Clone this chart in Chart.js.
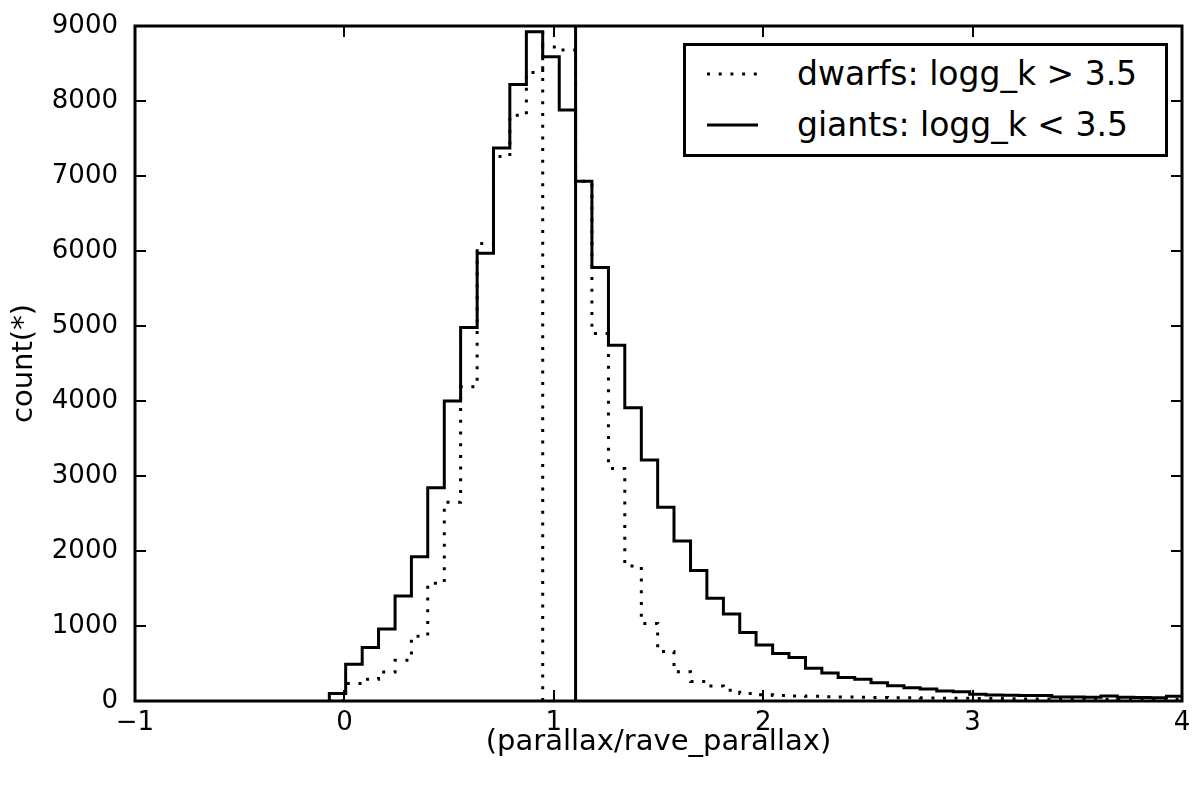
<!DOCTYPE html>
<html>
<head>
<meta charset="utf-8">
<script src="https://cdn.jsdelivr.net/npm/chart.js@4.4.1/dist/chart.umd.min.js"></script>
<style>
    html, body { margin: 0; padding: 0; background: #fff; }
    #wrap { position: relative; width: 1200px; height: 797px; background: #fff; }
    #legend {
        position: absolute; left: 683px; top: 43px; width: 485px; height: 114px;
        box-sizing: border-box; border: 3px solid #000; background: #fff;
        font-family: "DejaVu Sans", sans-serif; font-size: 33px; color: #000;
    }
    .row { position: absolute; left: 0; height: 50px; display: flex; align-items: center; }
    .row svg { margin-left: 21px; width: 51px; height: 6px; }
    .row span { margin-left: 39px; line-height: 40px; white-space: nowrap; }
</style>
</head>
<body>
<div id="wrap">
    <canvas id="chart" width="1200" height="797"></canvas>
    <div id="legend">
        <div class="row" style="top:3px">
            <svg viewBox="0 0 51 6"><line x1="0" y1="3" x2="51" y2="3" stroke="#000" stroke-width="3" stroke-dasharray="3 8.7"/></svg>
            <span>dwarfs: logg_k &gt; 3.5</span>
        </div>
        <div class="row" style="top:54px">
            <svg viewBox="0 0 51 6"><line x1="0" y1="3" x2="51" y2="3" stroke="#000" stroke-width="3"/></svg>
            <span>giants: logg_k &lt; 3.5</span>
        </div>
    </div>
</div>
<script>
// bin edges of both histograms (53 edges -> 52 bins)
const binEdges = [
    -0.072, 0.006, 0.085, 0.163, 0.242, 0.320, 0.398, 0.477, 0.555, 0.634,
    0.712, 0.790, 0.869, 0.947, 1.026, 1.104, 1.182, 1.261, 1.339, 1.418,
    1.496, 1.574, 1.653, 1.731, 1.810, 1.888, 1.966, 2.045, 2.123, 2.202,
    2.280, 2.358, 2.437, 2.515, 2.594, 2.672, 2.750, 2.829, 2.907, 2.986,
    3.064, 3.142, 3.221, 3.299, 3.378, 3.456, 3.534, 3.613, 3.691, 3.770,
    3.848, 3.926, 4.005,
];

const dwarfCounts = [
    0, 235, 290, 387, 545, 865, 1570, 2650, 4190, 6100,
    7260, 7810, 8380, 8720, 8680, 6930, 4900, 3100, 1800, 1035,
    660, 390, 260, 200, 145, 100, 82, 75, 67, 62,
    56, 53, 50, 47, 45, 42, 40, 38, 36, 34,
    32, 30, 28, 27, 26, 25, 24, 23, 22, 21,
    20, 20,
];

const giantCounts = [
    100, 490, 715, 960, 1400, 1925, 2845, 4000, 4980, 5970,
    7375, 8220, 8925, 8590, 7880, 6930, 5780, 4745, 3910, 3215,
    2585, 2135, 1740, 1370, 1160, 915, 747, 632, 580, 436,
    375, 314, 289, 244, 204, 177, 160, 133, 124, 89,
    80, 78, 75, 72, 55, 52, 50, 68, 50, 48,
    45, 62,
];

// vertical marker lines
const dwarfMark = [0.947, 8930];
const giantMark = [1.104, 9000];

const xTicks = [-1, 0, 1, 2, 3, 4];
const yTicks = [0, 1000, 2000, 3000, 4000, 5000, 6000, 7000, 8000, 9000];

const dotted = [3, 8.7];
const fontName = "'DejaVu Sans', sans-serif";

function stepPoints(counts) {
    // closed outline like a step histogram
    const pts = [{ x: binEdges[0], y: 0 }];
    counts.forEach((c, i) => pts.push({ x: binEdges[i], y: c }));
    pts.push({ x: binEdges[counts.length], y: 0 });
    return pts;
}

function markPoints(m) {
    return [{ x: m[0], y: 0 }, { x: m[0], y: m[1] }];
}

const frameAndTicks = {
    id: "frameAndTicks",
    afterDraw(chart) {
        const { ctx, chartArea: a } = chart;
        const x = chart.scales.x;
        const y = chart.scales.y;
        const len = 11;
        ctx.save();
        ctx.strokeStyle = "#000";
        ctx.lineWidth = 2;
        ctx.beginPath();
        xTicks.forEach((v) => {
            const px = Math.round(x.getPixelForValue(v));
            ctx.moveTo(px, a.bottom);
            ctx.lineTo(px, a.bottom - len);
            ctx.moveTo(px, a.top);
            ctx.lineTo(px, a.top + len);
        });
        yTicks.forEach((v) => {
            const py = Math.round(y.getPixelForValue(v));
            ctx.moveTo(a.left, py);
            ctx.lineTo(a.left + len, py);
            ctx.moveTo(a.right, py);
            ctx.lineTo(a.right - len, py);
        });
        ctx.stroke();
        ctx.lineWidth = 3;
        ctx.strokeRect(a.left, a.top, a.right - a.left, a.bottom - a.top);
        ctx.restore();
    },
};

const lineBase = {
    borderColor: "#000",
    borderWidth: 3,
    pointRadius: 0,
    fill: false,
    tension: 0,
    borderCapStyle: "butt",
};

new Chart(document.getElementById("chart").getContext("2d"), {
    type: "line",
    data: {
        datasets: [
            { ...lineBase, label: "giants: logg_k < 3.5", data: stepPoints(giantCounts), stepped: true },
            { ...lineBase, label: "dwarfs: logg_k > 3.5", data: stepPoints(dwarfCounts), stepped: true, borderDash: dotted },
            { ...lineBase, label: "giant mark", data: markPoints(giantMark) },
            { ...lineBase, label: "dwarf mark", data: markPoints(dwarfMark), borderDash: dotted },
        ],
    },
    options: {
        responsive: false,
        animation: false,
        events: [],
        layout: { padding: { left: 0, right: 18, top: 26, bottom: 0 } },
        plugins: { legend: { display: false }, tooltip: { enabled: false } },
        scales: {
            x: {
                type: "linear",
                min: -1,
                max: 4,
                afterFit: (s) => { s.height = 96; },
                afterBuildTicks: (s) => { s.ticks = xTicks.map((v) => ({ value: v })); },
                grid: { display: false, drawTicks: false },
                border: { display: false },
                ticks: {
                    color: "#000",
                    font: { family: fontName, size: 26 },
                    padding: 7,
                    maxRotation: 0,
                    autoSkip: false,
                    callback: (v) => String(v).replace("-", "\u2212"),
                },
                title: {
                    display: true,
                    text: "(parallax/rave_parallax)",
                    color: "#000",
                    font: { family: fontName, size: 29 },
                    padding: { top: 0, bottom: 37 },
                },
            },
            y: {
                min: 0,
                max: 9000,
                afterFit: (s) => {
                    s.width = 135;
                    // labels may overhang the plot frame, as in the original
                    s.paddingTop = 0;
                    s.paddingBottom = 0;
                },
                afterBuildTicks: (s) => { s.ticks = yTicks.map((v) => ({ value: v })); },
                grid: { display: false, drawTicks: false },
                border: { display: false },
                ticks: {
                    color: "#000",
                    font: { family: fontName, size: 26 },
                    padding: 17,
                    autoSkip: false,
                    callback: (v) => String(v),
                },
                title: {
                    display: true,
                    text: "count(*)",
                    color: "#000",
                    font: { family: fontName, size: 29 },
                    padding: { top: 7, bottom: 0 },
                },
            },
        },
    },
    plugins: [frameAndTicks],
});
</script>
</body>
</html>
